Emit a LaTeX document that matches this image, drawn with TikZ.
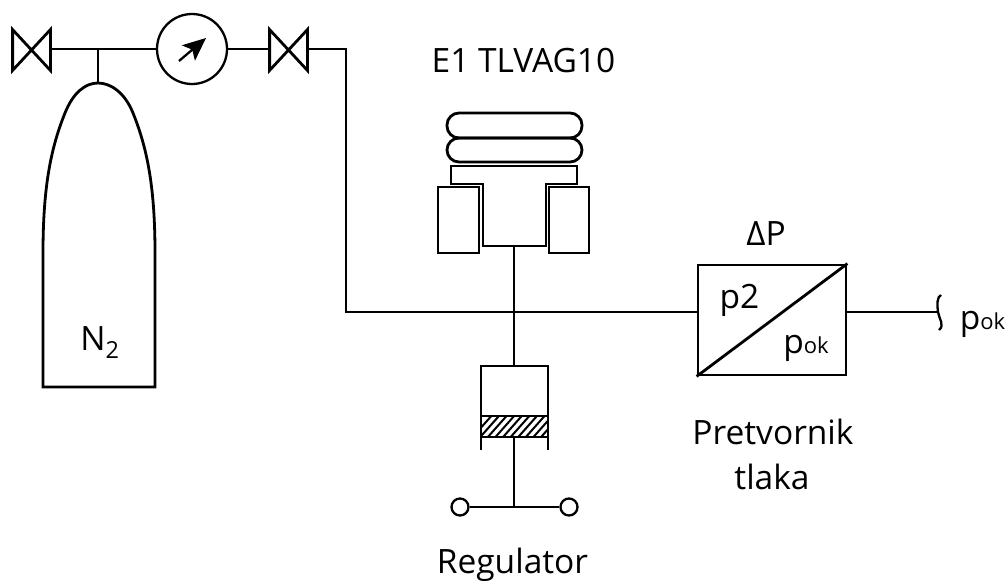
\documentclass[tikz,border=0pt]{standalone}
\usepackage{fontspec}
\setmainfont{Open Sans}
\usetikzlibrary{arrows.meta}
\tikzset{every picture/.style={x=1pt,y=-1pt,line width=2.8pt,line join=miter},
  valve/.style={inner sep=0pt,minimum width=35pt,minimum height=38pt},
  lbl/.style={anchor=base,inner sep=0pt,font=\fontsize{33.5}{40}\selectfont},
  term/.style={circle,draw,fill=white,line width=2.3pt,inner sep=0pt,minimum size=17pt}}
\newcommand{\smallok}{{\fontsize{22}{26}\selectfont ok}}

\begin{document}
\begin{tikzpicture}
\useasboundingbox (0,0) rectangle (1007,582);
\node[valve] (valveA) at (31.5,50) {};
\node[valve] (valveB) at (288.5,50) {};
\foreach \v in {valveA,valveB}
  \draw (\v.south west) -- (\v.north west) -- (\v.south east) -- (\v.north east) -- cycle;
\node[circle,draw,line width=2.3pt,inner sep=0pt,minimum size=70pt] (gauge) at (192,49) {};
\coordinate (tee) at (98,49);
\coordinate (bottletop) at (98,83);
\coordinate (corner) at (346,49);
\coordinate (bend) at (346,312);
\coordinate (junction) at (514,312);
\coordinate (inlet) at (698,312);
\coordinate (outlet) at (846,312);
\coordinate (tail) at (938,312);
\draw (valveA.east |- tee) -- (gauge);
\draw (gauge) -- (valveB.west |- tee);
\draw (tee) -- (bottletop);
\draw (valveB.east |- tee) -- (corner) -- (bend) -- (inlet);
\draw[line width=2.3pt,-{Stealth[length=23pt,width=20pt,inset=5pt]}] (179,61) -- (206,38);
% bottle
\draw (43,387) -- (43,253) .. controls (43,190) and (50,150) .. (65,113) .. controls (73,93) and (85,83) .. (bottletop) .. controls (111,83) and (125,93) .. (133,113) .. controls (148,150) and (155,190) .. (155,253) -- (155,387) -- cycle;
\node[lbl] (gas) at (100,350) {N\textsubscript{2}};
% head
\node[lbl] (head) at (523.5,72) {E1 TLVAG10};
\draw[rounded corners=12pt] (447,113) rectangle (582,138);
\draw[rounded corners=12pt] (447,138) rectangle (582,162);
\draw (451,166) -- (577,166) -- (577,184) -- (546,184) -- (546,246) -- (483,246) -- (483,184) -- (451,184) -- cycle;
\draw (438,187) rectangle (479,253);
\draw (549,187) rectangle (589,253);
\coordinate (stemtop) at (514,246);
\coordinate (pistontop) at (514,366);
\draw (stemtop) -- (pistontop);
% regulator
\draw (481,450) -- (481,366) -- (548,366) -- (548,450);
\begin{scope}
\clip (481,416) rectangle (548,437);
\foreach \i in {0,...,12}
  \draw[line width=2pt] (470+\i*7.6,440) -- (470+\i*7.6+24,413);
\end{scope}
\draw (481,416) rectangle (548,437);
\coordinate (pistonlow) at (514,437);
\coordinate (bus) at (514,507);
\node[term] (termL) at (460,507) {};
\node[term] (termR) at (569,507) {};
\draw (pistonlow) -- (bus);
\draw[line width=2.3pt] (termL) -- (termR);
\node[lbl] (reg) at (512.5,573) {Regulator};
% converter
\node[draw,inner sep=0pt,minimum width=148pt,minimum height=110pt] (conv) at (772,320) {};
\draw (conv.south west) -- (conv.north east);
\draw (outlet) -- (tail);
\draw[line width=2.3pt] (941,295) .. controls (937,297) and (937,304) .. (938,312) .. controls (939,319) and (945,325) .. (939,330);
\node[lbl] (dp) at (766,245) {ΔP};
\node[lbl] (ptwo) at (739.5,308) {p2};
\node[lbl] (pout) at (806,353) {p\smallok};
\node[lbl] (psig) at (982.5,329) {p\smallok};
\node[lbl] (conva) at (773,444) {Pretvornik};
\node[lbl] (convb) at (772,489) {tlaka};
\end{tikzpicture}
\end{document}
